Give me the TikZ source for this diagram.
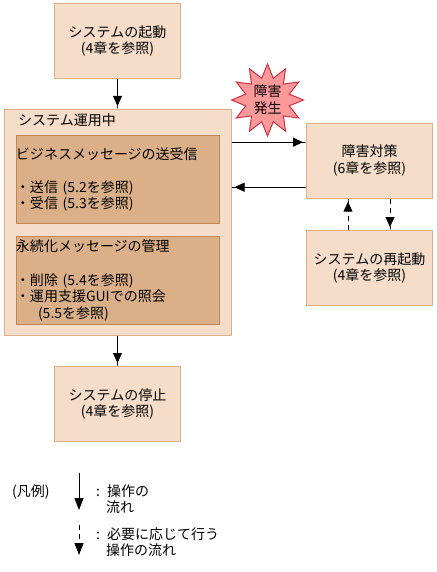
\documentclass[tikz,border=0pt]{standalone}
\usepackage{fontspec}
\setmainfont{Noto Sans CJK JP}
\usepackage{xcolor}
\usetikzlibrary{arrows.meta,shapes.geometric}
\definecolor{boxfill}{HTML}{F5DDC9}
\definecolor{boxline}{HTML}{DDB185}
\definecolor{innerfill}{HTML}{DBB088}
\definecolor{innerline}{HTML}{BF8852}
\definecolor{starfill}{HTML}{FF9999}
\definecolor{starline}{HTML}{CC3344}
\tikzset{
    txtfont/.style={font=\fontsize{14}{16.6}\selectfont},
    opbox/.style={draw=boxline, fill=boxfill, line width=1pt, inner sep=0pt, align=center, minimum width=126pt, minimum height=75pt, txtfont},
    innerbox/.style={draw=innerline, fill=innerfill, line width=1pt, inner sep=0pt, align=left, text width=203pt, minimum height=88pt, txtfont},
    headtip/.style={-{Triangle[length=10pt,width=9pt]Square[length=3pt,width=1pt]}},
    flowline/.style={draw, line width=1pt, headtip},
    dashline/.style={flowline, dash pattern=on 5pt off 4pt},
    legendtxt/.style={anchor=west, align=left, inner sep=0pt, txtfont}
}
\begin{document}
\begin{tikzpicture}[x=1pt, y=-1pt]
    \useasboundingbox (0,0) rectangle (436,572);
    % 操作の箱
    \foreach \name/\x/\y/\first/\second in {
        start/117.5/41/システムの起動/(4章を参照),
        stop/117.5/404/システムの停止/(4章を参照),
        measure/369.5/160.7/障害対策/(6章を参照),
        restart/369.5/268/システムの再起動/(4章を参照)} {
        \node[opbox] (\name) at (\x,\y) {\first \\ \second};
    }
    % システム運用中
    \node[draw=boxline, fill=boxfill, line width=1pt, minimum width=226.5pt, minimum height=225.5pt, inner sep=0pt] (running) at (117.75,222.25) {};
    \node[legendtxt] (runtitle) at (18,120) {システム運用中};
    \node[innerbox] (sendbox) at (117.5,179.5) {ビジネスメッセージの送受信 \\ ~ \\ ・送信 (5.2を参照) \\ ・受信 (5.3を参照)};
    \node[innerbox] (persistbox) at (117.5,280.5) {永続化メッセージの管理 \\ ~ \\ ・削除 (5.4を参照) \\ ・運用支援GUIでの照会 \\ \hspace*{22pt}(5.5を参照)};
    % 障害発生
    \node[star, star points=12, star point ratio=1.6, draw=starline, fill=starfill, line width=1pt, inner sep=0pt, minimum size=72pt, align=center, txtfont] (fault) at (267.5,100) {障害 \\ 発生};
    % 矢印
    \draw[flowline] (start) -- (running.north -| start);
    \draw[flowline] (running.south -| stop) -- (stop);
    \coordinate (faultin) at ([yshift=18.5pt]measure.west);
    \coordinate (faultout) at ([yshift=-26.5pt]measure.west);
    \draw[flowline] (faultin -| running.east) -- (faultin);
    \draw[flowline] (faultout) -- (faultout -| running.east);
    \draw[dashline] ([xshift=-21.5pt]restart.north) -- ([xshift=-21.5pt]measure.south);
    \draw[dashline] ([xshift=20.5pt]measure.south) -- ([xshift=20.5pt]restart.north);
    % 凡例
    \node[legendtxt] (legend) at (12,492) {(凡例)};
    \coordinate (solida) at (79,473);
    \coordinate (solidb) at (79,510);
    \coordinate (dasha) at (79,525);
    \coordinate (dashb) at (79,555);
    \draw[line width=1pt, -{Triangle[length=12pt,width=9pt]}] (solida) -- (solidb);
    \draw[line width=1pt, dash pattern=on 5pt off 4pt, -{Triangle[length=12pt,width=9pt]}] (dasha) -- (dashb);
    \node[legendtxt] (solidtxt) at (96,499) {:\hspace*{7pt}操作の \\ \hspace*{10pt}流れ};
    \node[legendtxt] (dashtxt) at (96,542) {:\hspace*{7pt}必要に応じて行う \\ \hspace*{10pt}操作の流れ};
\end{tikzpicture}
\end{document}
